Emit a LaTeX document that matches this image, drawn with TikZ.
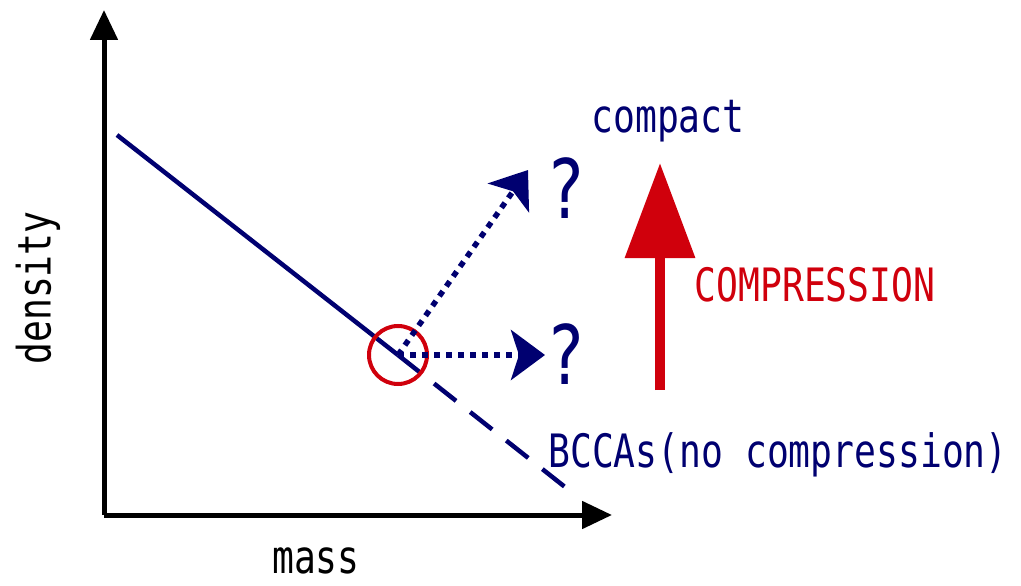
\documentclass[tikz,border=0pt]{standalone}
\usepackage{fontspec}
\usepackage{xcolor}
\usepackage{tikz}
\usetikzlibrary{arrows.meta, positioning}
\newfontfamily\gothic[FakeStretch=0.79]{DejaVu Sans Mono}
\definecolor{navyc}{RGB}{0,0,112}
\definecolor{redc}{RGB}{208,0,12}

\begin{document}
\begin{tikzpicture}[
            x=1pt, y=-1pt,
            axis/.style={line width=5pt, -{Triangle[length=30pt, width=27pt]}},
            trend/.style={navyc, line width=4.5pt},
            guess/.style={navyc, line width=5.5pt, dash pattern=on 6pt off 6pt, -{Stealth[length=34pt, width=50pt, inset=8pt]}},
            lbl/.style={font=\gothic\fontsize{46}{50}\selectfont, inner sep=0pt}
        ]
            \useasboundingbox (0,0) rectangle (1021,586);
            % axes
            \coordinate (origin) at (104,515);
            \coordinate (ytop) at (104,10);
            \coordinate (xend) at (612,515);
            \draw[axis] (origin) -- (ytop);
            \draw[axis] (origin) -- (xend);
            \node[lbl, rotate=90] (density) at (38,288) {density};
            \node[lbl] (mass) at (316,561) {mass};

            % trend line
            \coordinate (start) at (117,135);
            \coordinate (knee) at (398,355);
            \coordinate (bcend) at (565,487);
            \draw[trend] (start) -- (knee);
            \draw[trend, dash pattern=on 28pt off 18pt] (knee) -- (bcend);
            \node[draw=redc, line width=4pt, circle, minimum size=58pt] (turn) at (knee) {};

            % possible paths
            \node[lbl, navyc, font=\gothic\fontsize{82}{86}\selectfont] (qup) at (566,188) {?};
            \node[lbl, navyc, font=\gothic\fontsize{82}{86}\selectfont] (qmid) at (566,354) {?};
            \coordinate (tipup) at (528,170);
            \coordinate (tipmid) at (545,355);
            \draw[guess] (knee) -- (tipup);
            \draw[guess] (knee) -- (tipmid);
            \node[lbl, navyc] (compact) at (668,121) {compact};
            \node[lbl, navyc] (bccas) at (778,455) {BCCAs(no compression)};

            % compression
            \coordinate (cbase) at (660,390);
            \coordinate (ctip) at (660,163);
            \draw[redc, line width=10pt, -{Triangle[length=95pt, width=68pt]}] (cbase) -- (ctip);
            \node[lbl, redc] (compress) at (815,285) {COMPRESSION};
        \end{tikzpicture}
\end{document}
